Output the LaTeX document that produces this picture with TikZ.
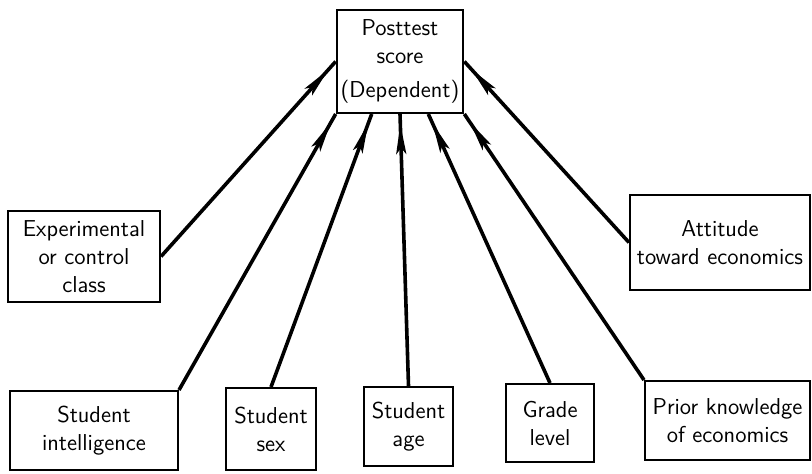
\documentclass[tikz,border=0pt]{standalone}
\usetikzlibrary{arrows.meta, decorations.markings, calc}

\begin{document}
\begin{tikzpicture}[
        x = 0.5pt, y = -0.5pt, % one unit per pixel of the scan
        font = \sffamily\fontsize{11.5}{14}\selectfont,
        dep/.style = {line width = 1.8pt, % thick line, tip set back from the box
            postaction = {decorate, decoration = {markings,
                    mark = at position -5pt with {\arrow{Stealth[length = 15pt, width = 5pt, inset = 3pt]}}}}}
    ]

    \tikzstyle{every node}=[draw = black, line width = 1pt, rectangle,
    align = center, inner sep = 2pt]

    \useasboundingbox (0,0) rectangle (812,473);

    % dependent variable
    \node (post) [minimum width = 63pt, minimum height = 51.5pt] at (400,61.5)
    {Posttest\\ score\\[3pt] (Dependent)};

    % independent variables
    \node (exp) [minimum width = 76pt, minimum height = 45.5pt] at (84,256.5)
    {Experimental\\ or control\\ class}; \node (att) [minimum width = 90pt,
        minimum height = 47.5pt] at (720,242.5) {Attitude\\ toward economics};
    \node (int) [minimum width = 84pt, minimum height = 39.5pt] at (94,430.5)
    {Student\\ intelligence}; \node (sex) [minimum width = 45pt, minimum
        height = 41pt] at (271,429) {Student\\ sex}; \node (age) [minimum
        width = 44.5pt, minimum height = 39.5pt] at (408.5,426.5) {Student\\
        age}; \node (grd) [minimum width = 44pt, minimum height = 39pt] at
    (550,423) {Grade\\ level}; \node (pri) [minimum width = 82.5pt, minimum
        height = 39.5pt] at (727.5,420.5) {Prior knowledge\\ of economics};

    \draw[dep] (exp.east) -- (post.west); \draw[dep] (att.west) -- (post.east);
    \draw[dep] (int.north east) -- (post.south west);
    \draw[dep] (sex.north) -- ($(post.south)!0.44!(post.south west)$);
    \draw[dep] (age.north) -- (post.south);
    \draw[dep] (grd.north) -- ($(post.south)!0.44!(post.south east)$);
    \draw[dep] (pri.north west) -- (post.south east);

\end{tikzpicture}
\end{document}
